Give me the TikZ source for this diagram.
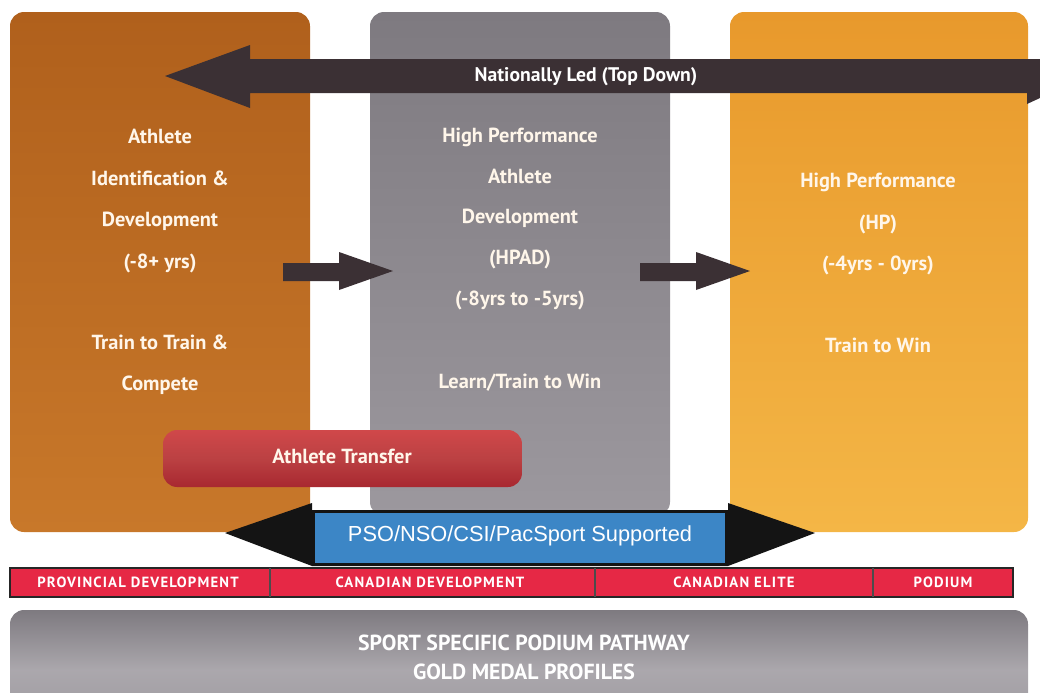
\documentclass[tikz,border=0pt]{standalone}
\usepackage{fontspec}
\setmainfont{PT Sans}
\newfontfamily\arialfont{Liberation Sans}
\newfontfamily\bandfont[LetterSpace=8]{PT Sans}
\usetikzlibrary{positioning}
\usepackage{xcolor}

\definecolor{orangetop}{HTML}{B0601C}
\definecolor{orangemid}{HTML}{C27022}
\definecolor{orangebot}{HTML}{C8782A}
\definecolor{greytop}{HTML}{7E7A80}
\definecolor{greymid}{HTML}{8E8A90}
\definecolor{greybot}{HTML}{9C989E}
\definecolor{yellowtop}{HTML}{E8992C}
\definecolor{yellowbot}{HTML}{F4B646}
\definecolor{arrowdark}{HTML}{3B3034}
\definecolor{transfertop}{HTML}{D0484A}
\definecolor{transferbot}{HTML}{A82830}
\definecolor{pacblue}{HTML}{3C86C6}
\definecolor{bandred}{HTML}{E62845}
\definecolor{boxwhite}{HTML}{FFF6EA}

\begin{document}
\begin{tikzpicture}[x=0.025cm, y=-0.025cm,
  boxtext/.style={anchor=base, inner sep=0pt, text=boxwhite, font=\bfseries\fontsize{14.5}{17}\selectfont},
  bandtext/.style={anchor=base, inner sep=0pt, text=white, font=\bandfont\bfseries\fontsize{10.5}{12}\selectfont},
  pathtext/.style={anchor=base, inner sep=0pt, text=white, font=\bfseries\fontsize{15.5}{17}\selectfont}]

\useasboundingbox (0,0) rectangle (1040,692);

%three stage boxes%
\shade[top color=orangetop, middle color=orangemid, bottom color=orangebot, rounded corners=10pt] (10,12) rectangle (310,532);
\shade[top color=greytop, middle color=greymid, bottom color=greybot, rounded corners=10pt] (370,12) rectangle (670,516);
\shade[top color=yellowtop, bottom color=yellowbot, rounded corners=10pt] (730,12) rectangle (1028,532);

%Nationally led arrow%
\fill[arrowdark] (165,76) -- (250,45) -- (250,59) -- (1040,59) -- (1040,93) -- (250,93) -- (250,108) -- cycle;
\fill[arrowdark] (1027,92) -- (1027,104) -- (1040,98) -- (1040,92) -- cycle;
\node[anchor=base, inner sep=0pt, text=white, font=\bfseries\fontsize{14}{16}\selectfont] (natled) at (586,81) {Nationally Led (Top Down)};

%stage texts%
\foreach \t/\y [count=\i] in {Athlete/143, Identification \&/185, Development/226, (-8+ yrs)/268,
  Train to Train \&/349, Compete/390}
  \node[boxtext] (idd\i) at (160,\y) {\t};
\foreach \t/\y [count=\i] in {High Performance/142, Athlete/183, Development/223, (HPAD)/264,
  (-8yrs to -5yrs)/305, {Learn/Train to Win}/388}
  \node[boxtext] (hpad\i) at (520,\y) {\t};
\foreach \t/\y [count=\i] in {High Performance/187, (HP)/229, (-4yrs - 0yrs)/270, Train to Win/352}
  \node[boxtext] (hp\i) at (878,\y) {\t};

%arrows between stages%
\foreach \a in {283,640}
  \fill[arrowdark] (\a,263) -- ({\a+56},263) -- ({\a+56},252) -- ({\a+110},271)
    -- ({\a+56},290) -- ({\a+56},281) -- (\a,281) -- cycle;

%athlete transfer%
\shade[top color=transfertop, bottom color=transferbot, middle color=transfertop!90!black, rounded corners=10pt] (163,430) rectangle (522,487);
\node[boxtext] (transfer) at (342,463) {Athlete Transfer};

%supported arrow%
\fill[black!92] (225,533) -- (312,503) -- (312,510) -- (728,510) -- (728,503) -- (815,533)
  -- (728,566) -- (312,566) -- cycle;
\fill[pacblue] (315,513) rectangle (725,563);
\node[anchor=base, inner sep=0pt, text=white, font=\arialfont\fontsize{15.5}{17}\selectfont] (support) at (520,541) {PSO/NSO/CSI/PacSport Supported};

%pathway band%
\fill[bandred] (10,568) rectangle (1013,597);
\draw[black!85, line width=1.2pt] (10,568) rectangle (1013,597);
\foreach \x in {270,595,873} \draw[black!70, line width=0.8pt] (\x,568) -- (\x,597);
\foreach \t/\x [count=\i] in {PROVINCIAL  DEVELOPMENT/138, CANADIAN  DEVELOPMENT/430, CANADIAN  ELITE/734, PODIUM/943}
  \node[bandtext] (band\i) at (\x,587) {\t};

%podium pathway%
\shade[top color=greytop, bottom color=greybot, middle color=greybot!85!white, rounded corners=10pt] (10,610) rectangle (1028,730);
\node[pathtext] (sport) at (524,650) {SPORT SPECIFIC PODIUM PATHWAY};
\node[pathtext] (gold) at (524,679) {GOLD MEDAL PROFILES};

\end{tikzpicture}
\end{document}
